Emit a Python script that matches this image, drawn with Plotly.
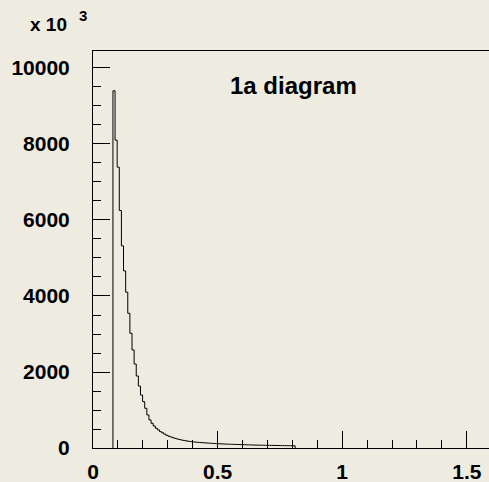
import numpy as np
import plotly.graph_objects as go

# Histogram binning (first bin low edge, bin width) and bin contents
bin_start = 0.08
bin_width = 0.0085
counts = [
    9400, 8100, 7390, 6250, 5320, 4660, 4100, 3545, 3020, 2580,
    2210, 1895, 1630, 1395, 1220, 1045, 870, 740, 650, 580,
    520, 475, 430, 400, 365, 335, 310, 290, 270, 252,
    236, 222, 210, 200, 190, 180, 172, 165, 159, 153,
    148, 143, 139, 135, 131, 127, 124, 120, 117, 114,
    111, 108, 106, 103, 101, 99, 97, 95, 93, 91,
    89, 87, 85, 83, 82, 80, 79, 77, 76, 75,
    73, 72, 71, 70, 69, 68, 67, 66, 65, 64,
    63, 62, 61, 60, 60, 59,
]

x_tickvals = [0, 0.5, 1, 1.5]
x_ticktext = ["0", "0.5", "1", "1.5"]
y_tickvals = [0, 2000, 4000, 6000, 8000, 10000]
y_ticktext = ["0", "2000", "4000", "6000", "8000", "10000"]

x_range = [0, 1.589]
y_range = [0, 10447]

bg = "#EEEBE0"
font_family = "Liberation Sans, Arial, Helvetica, sans-serif"

edges = bin_start + bin_width * np.arange(len(counts) + 1)

# Step outline: rise at the first edge, steps across bins, drop at the last edge
xs = [edges[0]] + list(edges[:-1]) + [edges[-1], edges[-1]]
ys = [0] + counts + [counts[-1], 0]

fig = go.Figure()
fig.add_trace(go.Scatter(
    x=xs, y=ys, mode="lines",
    line=dict(color="black", width=1, shape="hv"),
    hoverinfo="skip", showlegend=False,
))

axis_common = dict(
    showgrid=False, zeroline=False, showline=True,
    linecolor="black", linewidth=1,
    ticks="inside", tickcolor="black", tickwidth=1, ticklen=17,
    tickfont=dict(family=font_family, size=21, color="black", weight="bold"),
)

fig.update_xaxes(
    range=x_range, tickvals=x_tickvals, ticktext=x_ticktext,
    mirror=True, ticklabelstandoff=5,
    minor=dict(ticks="inside", ticklen=8, dtick=0.1, tick0=0,
               tickcolor="black", tickwidth=1, showgrid=False),
    **axis_common,
)
fig.update_yaxes(
    range=y_range, tickvals=y_tickvals, ticktext=y_ticktext,
    mirror=False, ticklabelstandoff=18,
    minor=dict(ticks="inside", ticklen=8, dtick=500, tick0=0,
               tickcolor="black", tickwidth=1, showgrid=False),
    **axis_common,
)

fig.add_annotation(
    text="1a diagram", xref="paper", yref="paper",
    x=(293 - 93) / 396, y=(448 - 85) / 397,
    showarrow=False, xanchor="center", yanchor="middle",
    font=dict(family=font_family, size=24, color="black", weight="bold"),
)
# Axis multiplier label
fig.add_annotation(
    text="x 10", xref="paper", yref="paper",
    x=(28 - 93) / 396, y=(448 - 25) / 397,
    showarrow=False, xanchor="left", yanchor="middle",
    font=dict(family=font_family, size=19, color="black", weight="bold"),
)
fig.add_annotation(
    text="3", xref="paper", yref="paper",
    x=(77 - 93) / 396, y=(448 - 16) / 397,
    showarrow=False, xanchor="left", yanchor="middle",
    font=dict(family=font_family, size=15, color="black", weight="bold"),
)

fig.update_layout(
    width=489, height=482,
    margin=dict(l=93, r=0, t=51, b=34),
    paper_bgcolor=bg, plot_bgcolor=bg,
    showlegend=False,
)

fig.write_html("out.html")
